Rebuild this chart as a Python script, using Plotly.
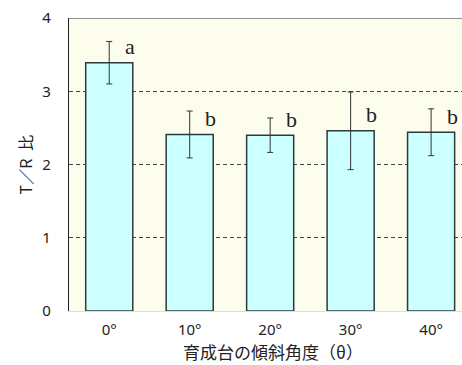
import plotly.graph_objects as go

categories = ["0°", "10°", "20°", "30°", "40°"]
values = [3.39, 2.41, 2.40, 2.46, 2.44]
errors = [0.29, 0.32, 0.235, 0.53, 0.32]
letters = ["a", "b", "b", "b", "b"]
y_ticks = [0, 1, 2, 3, 4]

fig = go.Figure()
fig.add_trace(go.Bar(
    x=list(range(len(categories))), y=values,
    marker=dict(color="#CCFFFF", line=dict(color="#2B3B3B", width=1.5)),
    error_y=dict(type="data", array=errors, visible=True, color="#333333", thickness=1, width=3),
    width=0.585,
))

for i, (v, e, l) in enumerate(zip(values, errors, letters)):
    fig.add_annotation(x=i, y=v, text=l, showarrow=False, xshift=21, yshift=16,
                       font=dict(family="Liberation Serif, DejaVu Serif, serif", size=22, color="#222222"))

fig.add_shape(type="line", xref="paper", yref="y", x0=0, x1=1, y0=4, y1=4,
              line=dict(color="#222222", width=1.2))

fig.add_annotation(xref="paper", yref="paper", x=0.518, y=0, yshift=-27, yanchor="top",
                   borderpad=0,
                   text="育成台の傾斜角度（θ）", showarrow=False,
                   font=dict(family="Noto Sans CJK JP", size=17, color="#222222"))

fig.update_layout(
    width=462, height=365,
    margin=dict(l=69, r=0, t=18, b=54),
    paper_bgcolor="white", plot_bgcolor="#FDFDEE",
    showlegend=False,
    xaxis=dict(range=[-0.5, 4.384], tickmode="array", tickvals=list(range(len(categories))),
               ticktext=categories, showgrid=False, zeroline=False,
               showline=True, linecolor="#DDDDDD", linewidth=1,
               ticks="outside", ticklen=5, tickcolor="rgba(0,0,0,0)",
               tickfont=dict(family="Noto Sans, DejaVu Sans, sans-serif", size=15, color="#222222")),
    yaxis=dict(range=[0, 4], tickvals=y_ticks, showgrid=True, gridcolor="#444444",
               griddash="4px,3px", gridwidth=1, zeroline=False,
               showline=True, linecolor="#222222", linewidth=1.2,
               ticks="outside", ticklen=14, tickcolor="rgba(0,0,0,0)",
               tickfont=dict(family="Noto Sans, DejaVu Sans, sans-serif", size=15, color="#222222"),
               title=dict(text="T／R\u2002比", standoff=5,
                          font=dict(family="Noto Sans CJK JP", size=16, color="#222222"))),
)

fig.write_html("out.html")
